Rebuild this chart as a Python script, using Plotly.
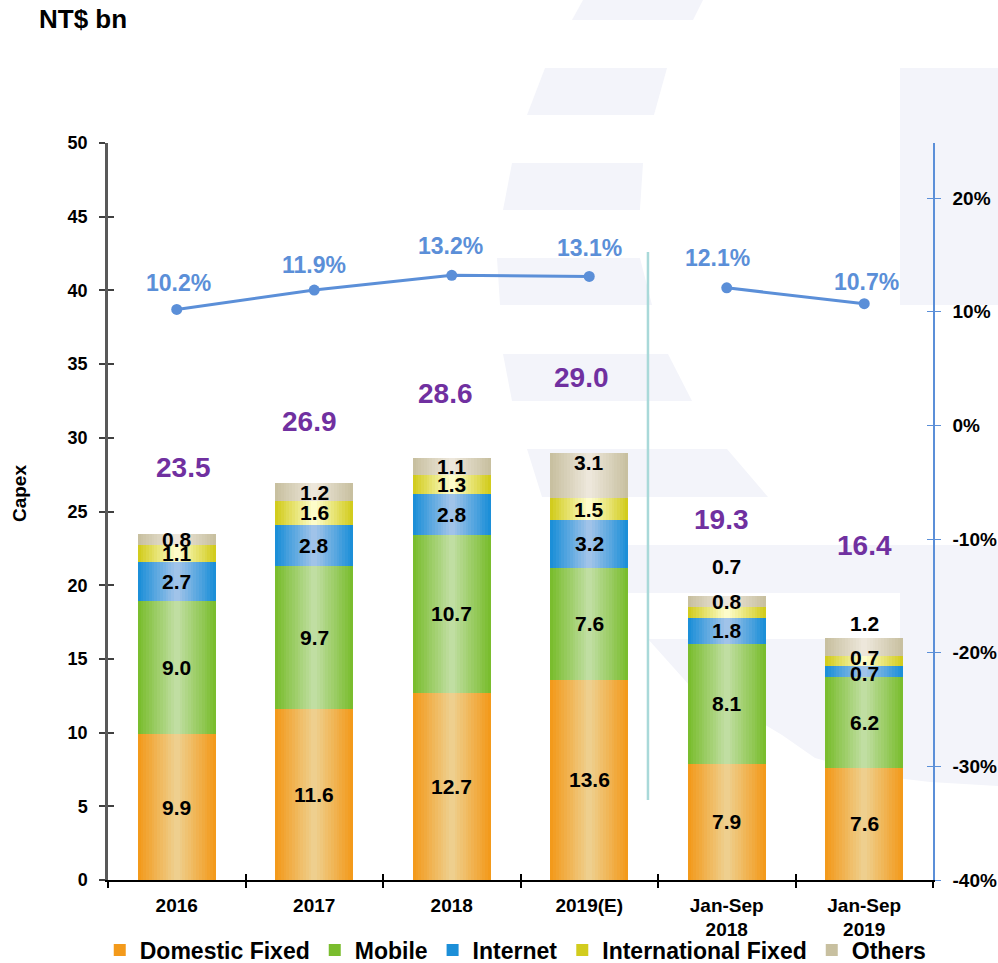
import plotly.graph_objects as go

# ---------------- data ----------------
categories = ["2016", "2017", "2018", "2019(E)", "Jan-Sep<br>2018", "Jan-Sep<br>2019"]
series_names = ["Domestic Fixed", "Mobile", "Internet", "International Fixed", "Others"]
domestic_fixed = [9.9, 11.6, 12.7, 13.6, 7.9, 7.6]
mobile = [9.0, 9.7, 10.7, 7.6, 8.1, 6.2]
internet = [2.7, 2.8, 2.8, 3.2, 1.8, 0.7]
international_fixed = [1.1, 1.6, 1.3, 1.5, 0.7, 0.7]
others = [0.8, 1.2, 1.1, 3.1, 0.8, 1.2]
totals = [23.5, 26.9, 28.6, 29.0, 19.3, 16.4]
capex_ratio = [10.2, 11.9, 13.2, 13.1, 12.1, 10.7]   # capex / revenue, %
left_tick_vals = [0, 5, 10, 15, 20, 25, 30, 35, 40, 45, 50]
right_tick_vals = [-40, -30, -20, -10, 0, 10, 20]
right_tick_text = ["-40%", "-30%", "-20%", "-10%", "0%", "10%", "20%"]

series_values = [domestic_fixed, mobile, internet, international_fixed, others]

# ---------------- styles ----------------
FONT = "Liberation Sans, Arial, sans-serif"
edge_colors = [(243, 154, 27), (122, 189, 46), (28, 143, 216), (210, 204, 30), (200, 192, 160)]
center_colors = [(238, 207, 142), (192, 222, 162), (160, 195, 233), (253, 252, 202), (237, 231, 219)]
BAR_W = 0.567
N_LAYERS = 14
PURPLE = "#7030a0"
LINE_BLUE = "#5b8fd8"

# label pixel shifts (style), keyed (series index, category index)
seg_shift = {(4, 3): 13, (3, 4): 46, (4, 5): 24, (3, 5): 4, (2, 5): -2}
total_yshift = [66, 62, 65, 75, 76, 93]
total_xshift = [7, -5, -6, -8, -5, 0]
pct_yshift = [26, 25, 29, 28, 30, 22]
pct_xshift = [2, 0, -1, 0, -9, 2]


def lerp(a, b, t):
    return "rgb(%d,%d,%d)" % tuple(round(a[i] + (b[i] - a[i]) * t) for i in range(3))


fig = go.Figure()

# stacked bars, each segment drawn as layered bars to imitate the horizontal gradient
bases = [[0.0] * len(categories)]
for vals in series_values[:-1]:
    bases.append([b + v for b, v in zip(bases[-1], vals)])

for si, (name, vals) in enumerate(zip(series_names, series_values)):
    for k in range(N_LAYERS):
        t = k / (N_LAYERS - 1)
        w = BAR_W * (1 - k / N_LAYERS)
        fig.add_trace(go.Bar(
            x=categories, y=vals, base=bases[si], width=w,
            marker=dict(color=lerp(edge_colors[si], center_colors[si], t), line=dict(width=0)),
            name=name, legendgroup=name, showlegend=(k == 0),
            hoverinfo="skip",
        ))

# capex / revenue line (two segments)
for sl in (slice(0, 4), slice(4, 6)):
    fig.add_trace(go.Scatter(
        x=categories[sl], y=capex_ratio[sl], yaxis="y2", mode="lines+markers",
        line=dict(color=LINE_BLUE, width=3), marker=dict(size=11, color=LINE_BLUE),
        showlegend=False, hoverinfo="skip",
    ))

# invisible trace for the overlay x axis (crossing ticks)
fig.add_trace(go.Scatter(x=categories, y=[0] * len(categories), xaxis="x2", mode="markers",
                         marker=dict(opacity=0), showlegend=False, hoverinfo="skip"))

annotations = []
# segment labels (x given as category index)
for si, vals in enumerate(series_values):
    for ci, v in enumerate(vals):
        annotations.append(dict(
            x=ci, y=bases[si][ci] + v / 2, xref="x", yref="y",
            text="%.1f" % v, showarrow=False, yshift=seg_shift.get((si, ci), 0),
            font=dict(family=FONT, size=21, color="black", weight="bold"),
        ))
# totals
for ci, tot in enumerate(totals):
    annotations.append(dict(
        x=ci, y=tot, xref="x", yref="y", text="%.1f" % tot, showarrow=False,
        yshift=total_yshift[ci], xshift=total_xshift[ci],
        font=dict(family=FONT, size=28, color=PURPLE, weight="bold"),
    ))
# percentages
for ci, p in enumerate(capex_ratio):
    annotations.append(dict(
        x=ci, y=p, xref="x", yref="y2", text="%.1f%%" % p, showarrow=False,
        yshift=pct_yshift[ci], xshift=pct_xshift[ci],
        font=dict(family=FONT, size=23, color=LINE_BLUE, weight="bold"),
    ))
annotations.append(dict(x=-0.1064, y=0.524, xref="paper", yref="paper", text="Capex",
                        textangle=-90, showarrow=False, xanchor="center", yanchor="middle",
                        font=dict(family=FONT, size=19, color="black", weight="bold")))
annotations.append(dict(x=-0.086, y=1.1683, xref="paper", yref="paper", text="NT$ bn",
                        xanchor="left", yanchor="middle", showarrow=False,
                        font=dict(family=FONT, size=26, color="black", weight="bold")))

# ---------------- faint watermark shapes (pixel -> paper) ----------------
L, T, PW, PH = 108, 143, 825, 737


def pp(x, y):
    return "%.4f,%.4f" % ((x - L) / PW, (T + PH - y) / PH)


water = [
    [(583, 0), (703, 0), (693, 20), (572, 20)],
    [(545, 68), (667, 68), (654, 115), (527, 115)],
    [(512, 163), (643, 163), (640, 210), (503, 210)],
    [(497, 258), (640, 258), (652, 305), (500, 305)],
    [(900, 68), (998, 68), (998, 305), (900, 305)],
    [(503, 354), (668, 354), (692, 401), (512, 401)],
    [(527, 449), (727, 449), (768, 497), (542, 497)],
    [(627, 545), (998, 545), (998, 593), (628, 593)],
    [(900, 593), (998, 593), (998, 639), (900, 639)],
    [(648, 639), (998, 639), (998, 686), (690, 686)],
    [(700, 686), (998, 686), (998, 786), (930, 782), (880, 776), (815, 758), (782, 735)],
]
shapes = []
for poly in water:
    path = "M" + " L".join(pp(x, y) for x, y in poly) + " Z"
    shapes.append(dict(type="path", path=path, xref="paper", yref="paper", layer="below",
                       fillcolor="#f3f4fa", line=dict(width=0)))
# separator line between annual and year-to-date figures
shapes.append(dict(type="line", xref="x", yref="y", x0=3.427, x1=3.427, y0=5.43, y1=42.6,
                   line=dict(color="#a9d9d9", width=2.5), layer="above"))

tickfont = dict(family=FONT, size=18, color="black", weight="bold")

fig.update_layout(
    width=998, height=963,
    margin=dict(l=L, r=998 - L - PW, t=T, b=963 - T - PH, autoexpand=False),
    paper_bgcolor="white", plot_bgcolor="rgba(0,0,0,0)",
    barmode="overlay", bargap=0,
    showlegend=True,
    legend=dict(orientation="h", x=-0.01, xanchor="left", y=-0.0949, yanchor="middle",
                font=dict(family=FONT, size=23, color="black", weight="bold"),
                itemwidth=30, traceorder="normal", tracegroupgap=0,
                bgcolor="rgba(0,0,0,0)"),
    xaxis=dict(type="category", categoryorder="array", categoryarray=categories,
               range=[-0.5, 5.5], showline=True, linecolor="black", linewidth=1.5,
               ticks="outside", tickson="boundaries", ticklen=6, tickcolor="black", tickwidth=1.5,
               tickfont=dict(family=FONT, size=19, color="black", weight="bold"),
               ticklabelstandoff=7,
               showgrid=False, zeroline=False, fixedrange=True, automargin=False),
    xaxis2=dict(type="category", categoryorder="array", categoryarray=categories,
                range=[-0.5, 5.5], overlaying="x", anchor="y", side="bottom",
                ticks="inside", tickson="boundaries", ticklen=6, tickcolor="black", tickwidth=1.5,
                showticklabels=False, showline=False, showgrid=False, zeroline=False,
                automargin=False),
    yaxis=dict(range=[0, 50], tickvals=left_tick_vals, showline=True, linecolor="#595959",
               linewidth=2.5, ticks="outside", ticklen=6, tickcolor="#404040", tickwidth=1.5,
               tickfont=tickfont, showgrid=False, zeroline=False, ticklabelstandoff=8,
               automargin=False),
    yaxis3=dict(range=[0, 50], tickvals=left_tick_vals, overlaying="y", anchor="x", side="left",
                ticks="inside", ticklen=6, tickcolor="#404040", tickwidth=1.5,
                showticklabels=False, showline=False, showgrid=False, zeroline=False,
                automargin=False),
    yaxis2=dict(range=[-40, 24.84], tickvals=right_tick_vals, ticktext=right_tick_text,
                overlaying="y", side="right", anchor="x", showline=True, linecolor=LINE_BLUE,
                linewidth=1.5, ticks="outside", ticklen=6, tickcolor=LINE_BLUE, tickwidth=1.2,
                tickfont=dict(family=FONT, size=19, color="black", weight="bold"),
                showgrid=False, zeroline=False, ticklabelstandoff=8, automargin=False),
    yaxis4=dict(range=[-40, 24.84], tickvals=right_tick_vals, overlaying="y", side="right",
                anchor="x", ticks="inside", ticklen=6, tickcolor=LINE_BLUE, tickwidth=1.2,
                showticklabels=False, showline=False, showgrid=False, zeroline=False,
                automargin=False),
    annotations=annotations,
    shapes=shapes,
    hovermode=False,
)

# dummy traces so the overlay axes are rendered
fig.add_trace(go.Scatter(x=[categories[0]], y=[0], yaxis="y3", mode="markers",
                         marker=dict(opacity=0), showlegend=False, hoverinfo="skip"))
fig.add_trace(go.Scatter(x=[categories[0]], y=[0], yaxis="y4", mode="markers",
                         marker=dict(opacity=0), showlegend=False, hoverinfo="skip"))

fig.write_html("out.html", config={"displayModeBar": False},
               post_script="document.body.style.margin='0';")
